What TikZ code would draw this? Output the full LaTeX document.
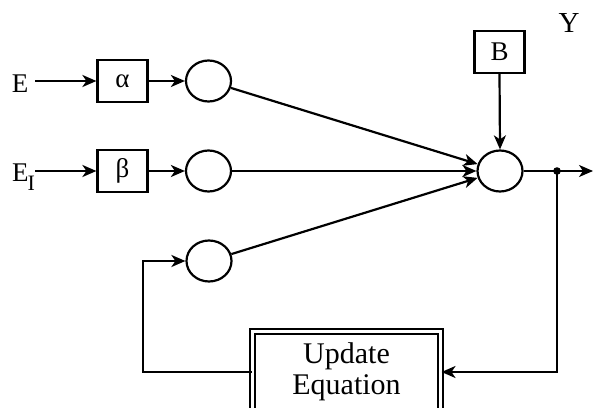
\documentclass[tikz,border=0pt]{standalone}
\usepackage{fontspec}
\setmainfont{Liberation Serif}
\usetikzlibrary{arrows.meta,shapes.geometric}
\begin{document}
\begin{tikzpicture}[x=1pt,y=1pt,
  lw/.style={line width=2.2pt},
  blk/.style={draw,lw,rectangle,minimum width=50pt,minimum height=42pt,inner sep=0pt,font=\fontsize{27}{27}\selectfont},
  ell/.style={draw,lw,ellipse,minimum width=45pt,minimum height=41pt,inner sep=0pt},
  arr/.style={lw,-{Stealth[length=14pt,width=12pt,inset=4pt]}},
  lbl/.style={inner sep=0pt,font=\fontsize{27}{27}\selectfont}]
\useasboundingbox (0,0) rectangle (593,407);
\node[lbl,anchor=base] (E) at (20,314) {E};
\node[lbl,anchor=base west] (EI) at (12,225) {E\kern-1pt\raisebox{-8pt}{\fontsize{22}{22}\selectfont I}};
\node[lbl,anchor=base,font=\fontsize{29}{29}\selectfont] (Y) at (569,374) {Y};
\node[blk] (a) at (122.5,326) {α};
\node[blk] (b) at (122.5,236) {β};
\node[ell] (c1) at (208.5,326) {};
\node[ell] (c2) at (208.5,236) {};
\node[ell] (c3) at (209,146) {};
\node[ell] (s) at (500,236) {};
\node[blk] (B) at (499.5,355) {B};
\node[draw,double,line width=2pt,double distance=3pt,minimum width=188pt,minimum height=81pt,
  align=center,inner sep=0pt,font=\fontsize{30}{31}\selectfont] (u) at (346.5,35) {Update\\Equation};
\coordinate (eA) at (35,326);
\coordinate (eB) at (35,236);
\coordinate (out) at (593,236);
\coordinate (dot) at (557,236);
\coordinate (fb) at (143,146);
\draw[arr] (eA) -- (a.west);
\draw[arr] (eB) -- (b.west);
\draw[arr] (a.east) -- (c1.west);
\draw[arr] (b.east) -- (c2.west);
\draw[arr] (c1) -- (s);
\draw[arr] (c2) -- (s);
\draw[arr] (c3) -- (s);
\draw[arr] (B.south) -- (s.north);
\draw[arr] (s.east) -- (out);
\fill (dot) circle (3.8pt);
\draw[arr] (dot) |- (u.east);
\draw[arr] (u.west) -| (fb) -- (c3.west);
\end{tikzpicture}
\end{document}
